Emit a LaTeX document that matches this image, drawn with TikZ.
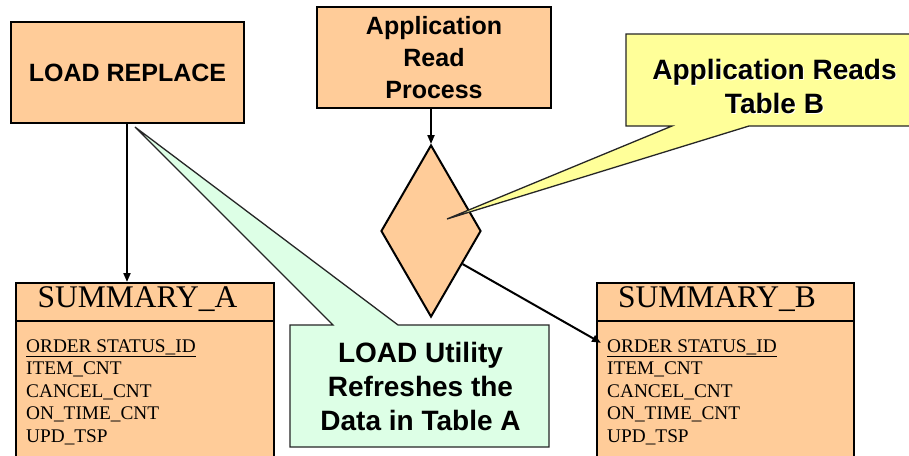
\documentclass[tikz,border=0pt]{standalone}
\usepackage{fontspec}
\setmainfont{Liberation Serif}
\setsansfont{Liberation Sans}
\usetikzlibrary{shapes.geometric,arrows.meta,calc}

\definecolor{peach}{HTML}{FFCC99}
\definecolor{mint}{HTML}{DDFFE6}
\definecolor{lemon}{HTML}{FFFF99}

\tikzset{
  procbox/.style={draw=black, line width=2.2pt, fill=peach, inner sep=0pt,
    font=\sffamily\bfseries\fontsize{25}{31.7}\selectfont, align=center},
  tablehead/.style={draw=black, line width=2pt, fill=peach, inner sep=0pt,
    anchor=north west},
  tablebody/.style={draw=black, line width=2pt, fill=peach, inner sep=0pt, anchor=north west},
  tabletitle/.style={anchor=base, inner sep=0pt, font=\rmfamily\fontsize{31.5}{34}\selectfont},
  field/.style={anchor=base west, inner sep=0pt, font=\rmfamily\fontsize{19.3}{22}\selectfont},
  flow/.style={line width=2pt, -{Triangle[length=9pt,width=7pt]}},
  calloutline/.style={line width=1.3pt, draw=black!85},
  callouttext/.style={font=\sffamily\bfseries\fontsize{28}{34}\selectfont, align=center, inner sep=0pt},
}

\begin{document}
\begin{tikzpicture}[x=1pt,y=-1pt]
\clip (0,0) rectangle (909,455);
\fill[white] (0,0) rectangle (909,455);

% process boxes
\node[procbox, minimum width=233pt, minimum height=101pt] (load) at (127.5,72.5) {LOAD REPLACE};
\node[procbox, minimum width=234pt, minimum height=101pt] (app) at (434,57.5) {Application\\Read\\Process};

% decision
\node[diamond, draw=black, line width=2pt, fill=peach, inner sep=0pt,
      minimum width=100pt, minimum height=172pt] (dia) at (431,231) {};

% tables
\node[tablebody, minimum width=258pt, minimum height=160pt] (bodyA) at (15,320) {};
\node[tablehead, minimum width=258pt, minimum height=38pt] (sumA) at (15,282) {};
\node[tabletitle] (titleA) at (137.5,307.5) {SUMMARY\_A};
\node[tablebody, minimum width=257pt, minimum height=160pt] (bodyB) at (596,320) {};
\node[tablehead, minimum width=257pt, minimum height=38pt] (sumB) at (596,282) {};
\node[tabletitle] (titleB) at (717,307.5) {SUMMARY\_B};

\foreach \tb/\x in {A/26, B/607}{
  \node[field] (\tb f1) at (\x,352) {\underline{ORDER STATUS\_ID}};
  \node[field] (\tb f2) at (\x,374.5) {ITEM\_CNT};
  \node[field] (\tb f3) at (\x,397) {CANCEL\_CNT};
  \node[field] (\tb f4) at (\x,419.5) {ON\_TIME\_CNT};
  \node[field] (\tb f5) at (\x,442) {UPD\_TSP};
}

% flow connectors
\coordinate (loadout) at (load.south -| 127,0);
\draw[flow] (loadout) -- (loadout |- sumA.north);
\draw[flow] (app.south -| dia.north) -- (dia.north);
\coordinate (diaout) at ($(dia.east)!0.38!(dia.south)$);
\draw[flow] (diaout) -- ($(Bf1.west)+(-6,-5)$);

% callout: LOAD utility
\coordinate (greentip) at (135,127);
\filldraw[calloutline, fill=mint]
  (290,325) -- (333,325) -- (greentip) -- (398,325) -- (549,325)
  -- (549,447) -- (290,447) -- cycle;
\node[callouttext] (greennote) at (420.5,386) {LOAD Utility\\Refreshes the\\Data in Table A};

% callout: application reads
\coordinate (yellowtip) at (447,219);
\filldraw[calloutline, fill=lemon]
  (626,34) -- (915,34) -- (915,126) -- (749,126) -- (yellowtip)
  -- (672,126) -- (626,126) -- cycle;
\node[callouttext, text=white] at (775.5,87.5) {Application Reads\\Table B};
\node[callouttext] (yellownote) at (774.5,86.5) {Application Reads\\Table B};
\end{tikzpicture}
\end{document}
